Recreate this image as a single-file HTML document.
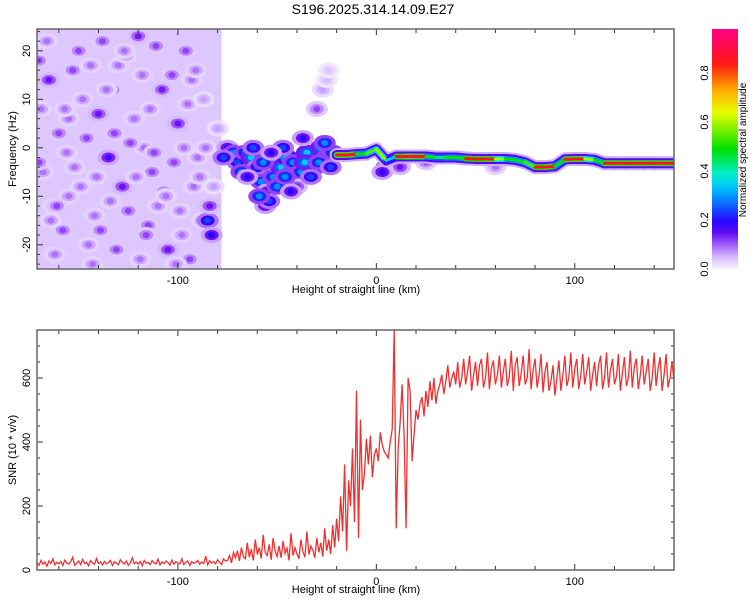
<!DOCTYPE html>
<html><head><meta charset="utf-8">
<style>
html,body{margin:0;padding:0;background:#fff;}
svg{display:block;font-family:"Liberation Sans",sans-serif;}
</style></head>
<body>
<svg id="chart" width="750" height="600" viewBox="0 0 750 600" xmlns="http://www.w3.org/2000/svg">
<defs>
<clipPath id="clipTop"><rect x="37" y="29" width="637" height="240"/></clipPath>
<clipPath id="clipBot"><rect x="37" y="330" width="637" height="240"/></clipPath>
<linearGradient id="cbGrad" x1="0" y1="1" x2="0" y2="0"></linearGradient>
</defs>
<text x="373" y="14" text-anchor="middle" font-size="14" fill="#000">S196.2025.314.14.09.E27</text>
<g id="topPlot"></g>
<g id="botPlot"></g>
<g id="cbar"></g>
</svg>
<script>
// ---------- data ----------
const xDomain = [-171, 150];
const fDomain = [-25, 24.5];
const snrDomain = [0, 750];
const xTicks = [-100, 0, 100];
const xTickLabels = ["-100", "0", "100"];
const fTicks = [-20, -10, 0, 10, 20];
const fTickLabels = ["-20", "-10", "0", "10", "20"];
const snrTicks = [0, 200, 400, 600];
const snrTickLabels = ["0", "200", "400", "600"];
const cbTicks = [0, 0.2, 0.4, 0.6, 0.8];
const cbTickLabels = ["0.0", "0.2", "0.4", "0.6", "0.8"];
const noiseRegion = [-171, -78];
const noiseFloor = 0.05;

const blobX = [-165,-160,-155,-150,-145,-140,-135,-130,-125,-120,-117,-113,-108,-105,-100,-96,-92,-88,-85,-83,-84,-168,-158,-148,-138,-128,-122,-110,-102,-95,-90,-162,-152,-142,-132,-118,-98,-170,-170,-86,
 -75,-72,-70,-66,-63,-60,-58,-55,-52,-48,-45,-42,-38,-35,-31,-28,-25,-22,-56,-40,-30,-27,-25,-24,8,5,-155,-133,-115,-93,-163,-147,-126,-107,
 -166,-161,-157,-153,-149,-146,-143,-139,-136,-131,-127,-124,-121,-116,-114,-111,-106,-103,-99,-97,-94,-91,-89,-87,-82,-80,-169,-164,-144,-134,-112,-101,-119,-141,-156,
 -77,-68,-62,-57,-54,-50,-46,-43,-36,-33,-29,-26,-23,-47,-59,-65,-53,-37,3,12,25,60];
const blobF = [14,3,-10,20,-20,7,-2,17,-13,23,0,-5,12,-21,5,20,-8,-15,-15,-18,-12,-5,-17,10,22,-8,6,-12,-3,9,-2,-22,-4,-14,3,15,-18,18,-3,0,
 0,-1,-3,-1,-2,-4,-7,-9,-6,-4,-2,-3,-5,-1,-4,0,-2,-1,-12,-8,8,12,14,16,-3,-4,6,12,-16,14,-12,-8,19,-9,
 22,-12,8,16,-8,2,-24,-17,12,-21,20,1,-6,-18,8,21,-10,15,-13,0,-23,16,-6,10,-8,4,8,-15,17,-11,-1,-24,-23,-6,-1,
 -2,-5,0,-3,-11,-8,-6,-9,-3,-6,-3,1,-4,0,-10,-6,-1,2,-5,-4,-3,-4];
const blobA = [0.15,0.12,0.1,0.12,0.1,0.15,0.18,0.1,0.12,0.14,0.1,0.12,0.14,0.15,0.15,0.12,0.1,0.1,0.25,0.2,0.15,0.1,0.12,0.1,0.12,0.15,0.1,0.1,0.12,0.1,0.1,0.1,0.1,0.1,0.12,0.1,0.1,0.12,0.12,0.1,
 0.2,0.3,0.25,0.3,0.35,0.25,0.3,0.2,0.3,0.35,0.4,0.3,0.3,0.35,0.3,0.35,0.3,0.3,0.2,0.15,0.12,0.08,0.06,0.05,0.35,0.25,0.1,0.12,0.12,0.1,0.1,0.12,0.1,0.12,
 0.1,0.12,0.1,0.12,0.1,0.12,0.1,0.12,0.1,0.12,0.1,0.12,0.1,0.12,0.1,0.12,0.1,0.12,0.1,0.1,0.12,0.1,0.1,0.08,0.08,0.08,0.1,0.1,0.1,0.1,0.12,0.1,0.1,0.1,0.1,
 0.25,0.3,0.25,0.3,0.25,0.3,0.3,0.2,0.35,0.25,0.3,0.3,0.25,0.25,0.3,0.2,0.2,0.2,0.2,0.15,0.12,0.1];

const bandX = [-20,-15,-10,-5,0,5,10,15,20,25,30,35,40,45,50,55,60,65,70,75,80,85,90,95,100,105,110,115,120,125,130,135,140,145,150];
const bandF = [-1.5,-1.5,-1.3,-1.2,-0.3,-2.6,-1.8,-1.8,-1.8,-1.8,-2,-2,-2,-2.2,-2.3,-2.3,-2.3,-2.3,-2.5,-3,-4,-4,-3.8,-2.4,-2.3,-2.3,-2.5,-3.2,-3.2,-3.2,-3.2,-3.2,-3.2,-3.2,-3.2];
const bandA = [0.88,0.88,0.5,0.55,0.6,0.35,0.85,0.9,0.88,0.5,0.45,0.5,0.5,0.85,0.85,0.88,0.6,0.5,0.5,0.55,0.85,0.88,0.5,0.88,0.88,0.6,0.5,0.88,0.88,0.88,0.88,0.88,0.88,0.88,0.88];

const snrStart = -171;
const snrValues = [22,15,30,18,25,12,28,20,35,16, 24,19,27,14,31,22,18,26,40,15, 21,28,17,33,20,24,13,29,22,18, 36,20,25,16,27,19,23,30,14,26, 21,17,32,24,19,28,15,22,38,20, 25,18,27,13,30,21,24,17,29,22, 19,34,16,25,20,28,23,15,31,18, 26,22,19,35,17,24,28,14,27,21, 23,30,18,25,20,43,16,29,22,26, 19,32,24,17,35,28,
 30,45,22,55,38,60,28,70,42,35, 85,40,65,30,95,48,70,36,110,55, 45,80,32,100,60,42,75,38,90,52, 68,30,115,45,70,50,35,95,58,40, 120,48,75,62,38,100,55,85,42,130, 60,95,50,140,70,
 160,90,230,120,330,60,280,200,380,150, 560,100,470,250,300,410,330,420,290,360,
 380,340,430,390,370,360,350,400,440,750, 130,380,460,580,420,130,600,560,340,420,500,
 470,520,540,480,560,510,590,530,600,520, 560,580,610,550,590,640,570,600,620,580,
 650,570,600,660,580,620,670,560,610,650, 575,640,660,570,600,680,565,630,655,580, 610,670,570,620,660,575,605,685,560,640, 665,575,615,670,580,600,690,565,625,660, 570,610,675,555,620,650,560,590,640,545, 600,655,560,610,670,575,600,680,570,630, 660,565,605,675,580,620,665,560,610,650, 575,640,670,565,600,680,570,625,660,580, 605,675,560,615,665,575,600,685,570,635, 660,565,610,670,580,620,660,560,600,680, 575,630,665,560,610,675,570,600,650,590];

// ---------- helpers ----------
const NS = "http://www.w3.org/2000/svg";
const L = 37, R = 674;
const TT = 29, TB = 269, BT = 330, BB = 570;
const xs = v => L + (v - xDomain[0]) / (xDomain[1] - xDomain[0]) * (R - L);
const fs = v => TB - (v - fDomain[0]) / (fDomain[1] - fDomain[0]) * (TB - TT);
const ss = v => BB - (v - snrDomain[0]) / (snrDomain[1] - snrDomain[0]) * (BB - BT);
const cbs = v => 269 - v * 245;
function el(tag, attrs, parent) {
  const e = document.createElementNS(NS, tag);
  for (const k in attrs) e.setAttribute(k, attrs[k]);
  parent.appendChild(e);
  return e;
}
const stops = [[0,[255,255,255]],[0.03,[236,224,255]],[0.08,[200,160,255]],[0.14,[120,20,240]],[0.2,[40,0,255]],[0.3,[0,140,255]],[0.38,[0,240,240]],[0.5,[0,225,0]],[0.65,[235,255,0]],[0.75,[255,160,0]],[0.85,[255,20,20]],[1,[255,0,140]]];
function cmap(v) {
  v = Math.max(0, Math.min(1, v));
  for (let i = 1; i < stops.length; i++) {
    if (v <= stops[i][0]) {
      const t = (v - stops[i-1][0]) / (stops[i][0] - stops[i-1][0]);
      const a = stops[i-1][1], b = stops[i][1];
      return `rgb(${Math.round(a[0]+(b[0]-a[0])*t)},${Math.round(a[1]+(b[1]-a[1])*t)},${Math.round(a[2]+(b[2]-a[2])*t)})`;
    }
  }
  return "rgb(255,0,140)";
}

// ---------- top panel ----------
const topG = document.getElementById("topPlot");
const heat = el("g", {"clip-path": "url(#clipTop)"}, topG);


const nr = el("rect", {x: xs(noiseRegion[0]), y: TT, width: xs(noiseRegion[1]) - xs(noiseRegion[0]), height: TB - TT, fill: cmap(noiseFloor)}, heat);


for (let i = 0; i < blobX.length; i++) {
  const g = el("g", {}, heat);
  
  
  const cx = xs(blobX[i]), cy = fs(blobF[i]), a = blobA[i];
  el("ellipse", {cx, cy, rx: 11, ry: 8, fill: cmap(a * 0.4)}, g);
  el("ellipse", {cx, cy, rx: 7, ry: 5, fill: cmap(a * 0.75)}, g);
  el("ellipse", {cx, cy, rx: 3.5, ry: 3, fill: cmap(a)}, g);
}
const band = el("g", {"stroke-linecap": "round"}, heat);


const layers = [[14, 0], [10, 1], [6, 2], [3, 3]];
for (const [w, k] of layers) {
  for (let i = 0; i < bandX.length - 1; i++) {
    const a = bandA[i];
    const c = k === 0 ? cmap(0.07) : k === 1 ? cmap(0.17) : k === 2 ? cmap(a * 0.6) : cmap(a);
    const ln = el("line", {x1: xs(bandX[i]), y1: fs(bandF[i]), x2: xs(bandX[i+1]), y2: fs(bandF[i+1]), stroke: c, "stroke-width": w}, band);
    
    
  }
}
function frame(y0, y1, name) {
  const r = el("rect", {x: L, y: y0, width: R - L, height: y1 - y0, fill: "none", stroke: "#666", "stroke-width": 1.5}, document.getElementById("chart"));
  
  
}
function xAxis(y0, y1, parent, labelY) {
  for (let v = -160; v <= 140; v += 20) {
    const big = xTicks.includes(v) ? 6 : 4;
    el("line", {x1: xs(v), x2: xs(v), y1: y1, y2: y1 - big, stroke: "#333"}, parent);
    el("line", {x1: xs(v), x2: xs(v), y1: y0, y2: y0 + big, stroke: "#333"}, parent);
  }
  xTicks.forEach((v, i) => {
    const t = el("text", {x: xs(v), y: y1 + 15, "text-anchor": "middle", "font-size": 11}, parent);
    t.textContent = xTickLabels[i];
    
    
  });
  const tt = el("text", {x: 356, y: labelY, "text-anchor": "middle", "font-size": 11}, parent);
  tt.textContent = "Height of straight line (km)";
  
  
}
frame(TT, TB, "spectrogram-frame");
xAxis(TT, TB, topG, 293);
for (let v = -24; v <= 24; v += 2) {
  el("line", {x1: L, x2: L + (v % 10 === 0 ? 6 : 3), y1: fs(v), y2: fs(v), stroke: "#333"}, topG);
}
fTicks.forEach((v, i) => {
  const t = el("text", {transform: `translate(30,${fs(v)}) rotate(-90)`, "text-anchor": "middle", "font-size": 11}, topG);
  t.textContent = fTickLabels[i];
  
  
});
const fy = el("text", {transform: "translate(16,149) rotate(-90)", "text-anchor": "middle", "font-size": 11}, topG);
fy.textContent = "Frequency (Hz)";



// ---------- bottom panel ----------
const bot = document.getElementById("botPlot");
let pts = snrValues.map((v, i) => `${xs(snrStart + i).toFixed(1)},${ss(v).toFixed(1)}`).join(" ");
const pl = el("polyline", {points: pts, fill: "none", stroke: "#f03030", "stroke-width": 1.3, "clip-path": "url(#clipBot)"}, bot);


frame(BT, BB, "snr-frame");
xAxis(BT, BB, bot, 593);
for (let v = 0; v <= 750; v += 50) {
  el("line", {x1: L, x2: L + (v % 200 === 0 ? 6 : 3), y1: ss(v), y2: ss(v), stroke: "#333"}, bot);
  el("line", {x1: R, x2: R - 3, y1: ss(v), y2: ss(v), stroke: "#333"}, bot);
}
snrTicks.forEach((v, i) => {
  const t = el("text", {transform: `translate(30,${ss(v)}) rotate(-90)`, "text-anchor": "middle", "font-size": 11}, bot);
  t.textContent = snrTickLabels[i];
  
  
});
const sy = el("text", {transform: "translate(16,450) rotate(-90)", "text-anchor": "middle", "font-size": 11}, bot);
sy.textContent = "SNR (10 * v/v)";



// ---------- colorbar ----------
const grad = document.getElementById("cbGrad");
for (let i = 0; i <= 20; i++) {
  el("stop", {offset: (i / 20 * 100) + "%", "stop-color": cmap(i / 20 * 0.98 + 0.01)}, grad);
}
const cb = document.getElementById("cbar");
const cr = el("rect", {x: 712, y: 29, width: 26, height: 240, fill: "url(#cbGrad)"}, cb);


cbTicks.forEach((v, i) => {
  const t = el("text", {transform: `translate(708,${cbs(v)}) rotate(-90)`, "text-anchor": "middle", "font-size": 11}, cb);
  t.textContent = cbTickLabels[i];
  
  
});
const ct = el("text", {transform: "translate(746,150) rotate(-90)", "text-anchor": "middle", "font-size": 10}, cb);
ct.textContent = "Normalized spectral amplitude";


</script>
</body></html>
